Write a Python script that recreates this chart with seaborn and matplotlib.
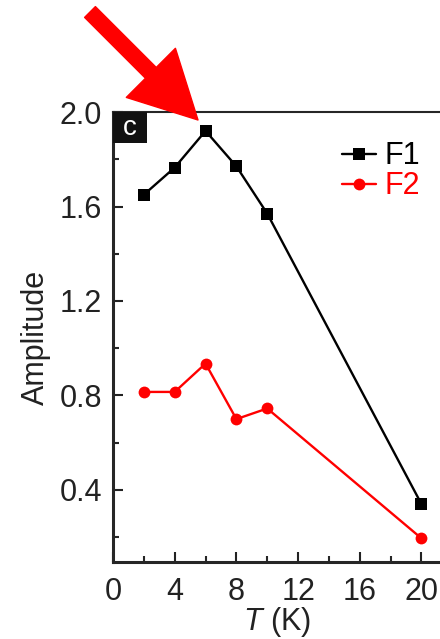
import numpy as np
import pandas as pd
import seaborn as sns
import matplotlib.pyplot as plt
from matplotlib.ticker import MultipleLocator
from matplotlib.patches import Rectangle

# data
temps = [2, 4, 6, 8, 10, 20]
f1_amp = [1.65, 1.765, 1.92, 1.77, 1.57, 0.34]
f2_amp = [0.815, 0.815, 0.935, 0.70, 0.745, 0.195]
series_names = ['F1', 'F2']
x_ticks = [0, 4, 8, 12, 16, 20]
y_ticks = [0.4, 0.8, 1.2, 1.6, 2.0]

sns.set_style('ticks')
plt.rcParams['font.family'] = ['Liberation Sans', 'DejaVu Sans']
plt.rcParams['mathtext.fontset'] = 'custom'
plt.rcParams['mathtext.it'] = 'Liberation Sans:italic'
plt.rcParams['mathtext.rm'] = 'Liberation Sans'

fig = plt.figure(figsize=(4.4, 6.39), dpi=100)
ax = fig.add_axes([0.2568, 0.1205, 0.7432, 0.7042])

sns.lineplot(x=temps, y=f1_amp, ax=ax, color='black', marker='s', markersize=8,
             markeredgewidth=0, linewidth=1.7, label=series_names[0])
sns.lineplot(x=temps, y=f2_amp, ax=ax, color='red', marker='o', markersize=8.5,
             markeredgewidth=0, linewidth=1.7, label=series_names[1])

ax.set_xlim(0, 21.2)
ax.set_ylim(0.095, 2.0)
ax.set_xticks(x_ticks)
ax.set_yticks(y_ticks)
ax.set_yticklabels([f'{v:.1f}' for v in y_ticks])
ax.xaxis.set_minor_locator(MultipleLocator(2))
ax.yaxis.set_minor_locator(MultipleLocator(0.2))
ax.tick_params(which='major', direction='in', length=7.5, width=1.5, labelsize=22,
               colors='#222222')
ax.tick_params(which='minor', direction='in', length=4, width=1.5)
ax.tick_params(axis='x', which='both', top=False, pad=11)
ax.tick_params(axis='y', which='both', right=False, pad=8)

ax.spines['right'].set_visible(False)
ax.spines['left'].set_linewidth(2.2)
ax.spines['bottom'].set_linewidth(2.2)
ax.spines['top'].set_linewidth(1.5)

ax.set_xlabel('$T$ (K)', fontsize=22, color='#222222', labelpad=-2)
ax.set_ylabel('Amplitude', fontsize=22, color='#222222', labelpad=6)

leg = ax.legend(loc='upper right', bbox_to_anchor=(0.94, 0.935), frameon=False,
                fontsize=22, handlelength=1.1, handletextpad=0.3, labelspacing=0,
                borderaxespad=0, borderpad=0)
for text, line in zip(leg.get_texts(), leg.get_lines()):
    text.set_color(line.get_color())

# panel label box
ax.add_patch(Rectangle((0, 1 - 31 / 450), 34 / 327, 31 / 450, transform=ax.transAxes,
                       facecolor='#111111', edgecolor='none', clip_on=False, zorder=5))
ax.text(17 / 327, 1 - 15.5 / 450, 'c', transform=ax.transAxes, ha='center', va='center',
        color='white', fontsize=20, zorder=6)

# red arrow pointing at the F1 peak
ax.annotate('', xy=(198, 519), xycoords='figure pixels',
            xytext=(90, 627), textcoords='figure pixels',
            arrowprops=dict(arrowstyle='simple,head_length=4.8,head_width=5.0,tail_width=1.1',
                            color='red', mutation_scale=10, shrinkA=0, shrinkB=0),
            annotation_clip=False, zorder=10)

fig.savefig('out.png', dpi=100)
